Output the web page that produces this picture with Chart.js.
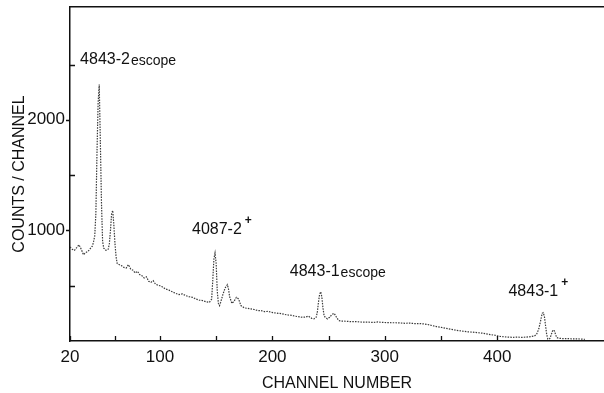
<!DOCTYPE html>
<html>
<head>
<meta charset="utf-8">
<script src="https://cdn.jsdelivr.net/npm/chart.js@4"></script>
<style>
  body { margin: 0; background: #fff; }
  #wrap { width: 604px; height: 393px; }
</style>
</head>
<body>
<div id="wrap"><canvas id="spectrum"></canvas></div>
<script>
// Spectre gamma - comptes par canal

const channels = [
  20, 22, 24, 26, 28, 30, 32, 34, 36, 38, 40, 41, 42, 43, 44, 45, 46, 47, 48, 49,
  50, 52, 54, 55, 56, 57, 58, 59, 60, 61, 62, 64, 66, 68, 70, 72, 74, 76, 78, 80,
  82, 84, 86, 88, 90, 92, 94, 96, 98, 100, 102, 105, 108, 111, 114, 117, 120, 123, 126, 129,
  132, 135, 138, 141, 144, 146, 147, 148, 149, 150, 151, 152, 153, 154, 156, 158, 160, 161, 162, 164,
  166, 168, 170, 172, 175, 178, 181, 184, 187, 190, 193, 196, 199, 202, 205, 208, 211, 214, 217, 220,
  223, 226, 229, 232, 235, 237, 239, 240, 241, 242, 243, 244, 245, 246, 247, 249, 251, 253, 255, 257,
  259, 262, 266, 270, 274, 278, 282, 286, 290, 294, 298, 302, 306, 310, 314, 318, 322, 326, 330, 334,
  338, 342, 346, 350, 354, 358, 362, 366, 370, 374, 378, 382, 386, 390, 394, 398, 402, 406, 410, 414,
  418, 422, 426, 430, 433, 435, 437, 439, 440, 441, 442, 443, 444, 445, 446, 447, 448, 449, 450, 451,
  452, 453, 455, 458, 462, 466, 470, 474, 478
];
const counts = [
  850, 830, 820, 845, 870, 830, 780, 800, 810, 835, 860, 900, 950, 1150, 1700, 2150, 2320, 1800, 1250, 900,
  840, 820, 830, 880, 1000, 1150, 1180, 1050, 880, 760, 700, 690, 680, 665, 660, 690, 650, 640, 615, 630,
  600, 590, 570, 580, 540, 530, 545, 515, 505, 500, 490, 470, 460, 445, 430, 420, 425, 410, 400, 395,
  380, 370, 365, 355, 350, 380, 550, 740, 795, 700, 450, 340, 320, 350, 420, 480, 510, 470, 400, 340,
  360, 395, 380, 320, 300, 295, 290, 285, 275, 275, 265, 268, 260, 255, 250, 248, 240, 235, 232, 225,
  220, 215, 215, 225, 205, 200, 215, 260, 350, 420, 445, 400, 300, 230, 215, 200, 215, 240, 250, 215,
  185, 180, 178, 175, 176, 172, 170, 170, 168, 172, 168, 166, 165, 165, 163, 160, 162, 158, 158, 155,
  150, 140, 130, 124, 115, 108, 100, 93, 88, 83, 80, 76, 72, 65, 58, 52, 42, 38, 35, 33,
  35, 33, 35, 40, 45, 60, 110, 200, 250, 256, 220, 140, 60, 18, 15, 25, 55, 85, 100, 90,
  55, 30, 25, 22, 22, 20, 20, 18, 15
];

const xTicks = [20, 60, 100, 150, 200, 250, 300, 350, 400];
const xLabels = [20, 100, 200, 300, 400];
const yTicks = [500, 1000, 1500, 2000, 2500];
const yLabels = [1000, 2000];

// étiquettes des pics : texte, exposant, position (canal, comptes)
const peakNotes = [
  { main: '4843-2', small: 'escope', sup: '', ch: 29, cnt: 2540 },
  { main: '4087-2', small: '', sup: '+', ch: 128.5, cnt: 1010 },
  { main: '4843-1', small: 'escope', sup: '', ch: 215.5, cnt: 624 },
  { main: '4843-1', small: '', sup: '+', ch: 410, cnt: 443 }
];

const FONT = "'Liberation Sans', Arial, sans-serif";

const marksPlugin = {
  id: 'marks',
  afterDraw(chart) {
    const { ctx, scales: { x, y } } = chart;
    ctx.save();
    ctx.strokeStyle = '#111';
    ctx.lineWidth = 1.3;
    ctx.beginPath();
    xTicks.forEach(v => {
      const px = Math.round(x.getPixelForValue(v)) + 0.5;
      ctx.moveTo(px, y.bottom);
      ctx.lineTo(px, y.bottom - 5);
    });
    yTicks.forEach(v => {
      const py = Math.round(y.getPixelForValue(v)) + 0.5;
      if (yLabels.includes(v)) {
        ctx.moveTo(x.left - 4, py);
        ctx.lineTo(x.left, py);
      } else {
        ctx.moveTo(x.left, py);
        ctx.lineTo(x.left + 5, py);
      }
    });
    ctx.stroke();

    ctx.fillStyle = '#111';
    ctx.textBaseline = 'middle';
    ctx.textAlign = 'left';
    peakNotes.forEach(n => {
      let px = x.getPixelForValue(n.ch);
      const py = y.getPixelForValue(n.cnt);
      ctx.font = '16px ' + FONT;
      ctx.fillText(n.main, px, py);
      px += ctx.measureText(n.main).width + 1;
      if (n.small) {
        ctx.font = '14px ' + FONT;
        ctx.fillText(n.small, px, py + 1);
      }
      if (n.sup) {
        ctx.font = 'bold 12px ' + FONT;
        ctx.fillText(n.sup, px + 2, py - 9);
      }
    });
    ctx.restore();
  }
};

const noPad = s => {
  s.paddingTop = 0;
  s.paddingBottom = 0;
  s.paddingLeft = 0;
  s.paddingRight = 0;
};

new Chart(document.getElementById('spectrum'), {
  type: 'line',
  data: {
    datasets: [{
      data: channels.map((c, i) => ({ x: c, y: counts[i] })),
      borderColor: '#3a3a3a',
      borderWidth: 1.2,
      borderDash: [1.5, 1.2],
      pointRadius: 0,
      tension: 0
    }]
  },
  options: {
    responsive: true,
    maintainAspectRatio: false,
    animation: false,
    layout: { padding: 0 },
    plugins: {
      legend: { display: false },
      tooltip: { enabled: false }
    },
    scales: {
      x: {
        type: 'linear',
        min: 20,
        max: 495,
        afterFit: s => { s.height = 52; noPad(s); },
        afterBuildTicks: s => { s.ticks = xTicks.map(v => ({ value: v })); },
        grid: { display: false, drawTicks: false },
        border: { display: true, color: '#111', width: 1.5 },
        ticks: {
          padding: 6,
          color: '#111',
          font: { family: FONT, size: 17 },
          maxRotation: 0,
          autoSkip: false,
          callback: v => xLabels.includes(v) ? String(v) : ''
        },
        title: {
          display: true,
          text: 'CHANNEL NUMBER',
          color: '#111',
          font: { family: FONT, size: 16 },
          padding: { top: 9, bottom: 0 }
        }
      },
      xTop: {
        type: 'linear',
        position: 'top',
        min: 20,
        max: 495,
        afterFit: s => { s.height = 7; noPad(s); },
        grid: { display: false, drawTicks: false },
        border: { display: true, color: '#111', width: 1.5 },
        ticks: { display: false }
      },
      y: {
        min: 0,
        max: 3020,
        afterFit: s => { s.width = 70; noPad(s); },
        afterBuildTicks: s => { s.ticks = yTicks.map(v => ({ value: v })); },
        grid: { display: false, drawTicks: false },
        border: { display: true, color: '#111', width: 1.5 },
        ticks: {
          padding: 5,
          color: '#111',
          font: { family: FONT, size: 17 },
          autoSkip: false,
          callback: v => yLabels.includes(v) ? String(v) : ''
        },
        title: {
          display: true,
          text: 'COUNTS / CHANNEL',
          color: '#111',
          font: { family: FONT, size: 16 },
          padding: { top: 10, bottom: 0 }
        }
      }
    }
  },
  plugins: [marksPlugin]
});
</script>
</body>
</html>
